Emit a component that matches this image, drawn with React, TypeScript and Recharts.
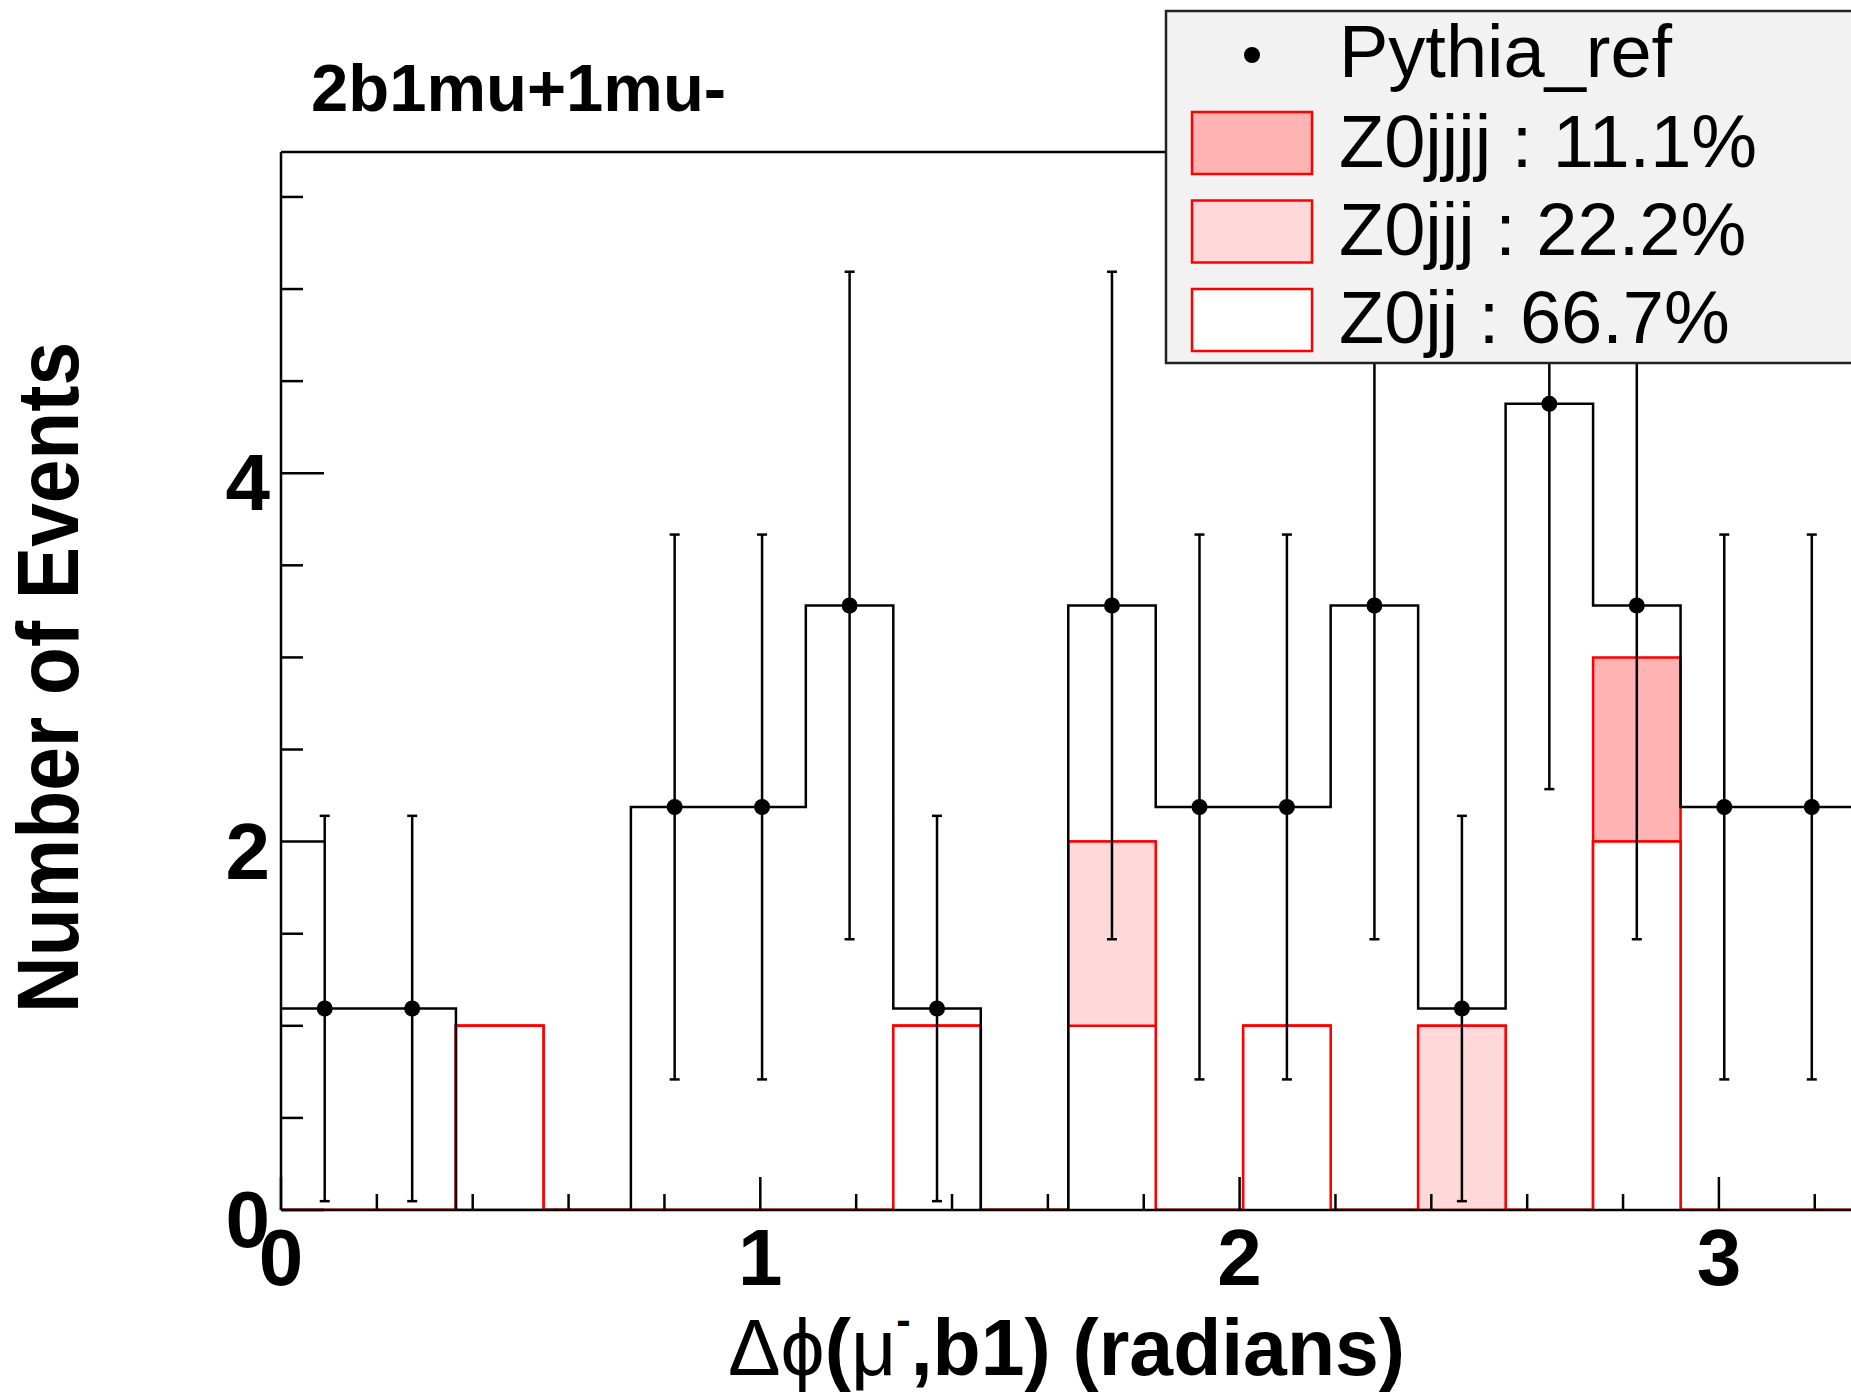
import React from 'react';
import { ComposedChart, Area, Line, Scatter, ErrorBar, XAxis, YAxis, ReferenceLine } from 'recharts';

// histogram binning (radians)
const binWidth = 0.1825;
const xMax = 3.2756;
const yMax = 5.744;

// Pythia reference, per bin (normalised)
const pythiaRef = [1.094, 1.094, 0, 0, 2.188, 2.188, 3.282, 1.094, 0, 3.282, 2.188, 2.188, 3.282, 1.094, 4.377, 3.282, 2.188, 2.188];
const pythiaErr = [1.046, 1.046, 0, 0, 1.479, 1.479, 1.812, 1.046, 0, 1.812, 1.479, 1.479, 1.812, 1.046, 2.092, 1.812, 1.479, 1.479];

// MC samples, events per bin
const z0jj = [0, 0, 1, 0, 0, 0, 0, 1, 0, 1, 0, 1, 0, 0, 0, 2, 0, 0];
const z0jjj = [0, 0, 0, 0, 0, 0, 0, 0, 0, 1, 0, 0, 0, 1, 0, 0, 0, 0];
const z0jjjj = [0, 0, 0, 0, 0, 0, 0, 0, 0, 0, 0, 0, 0, 0, 0, 1, 0, 0];

const xTicks = [0, 0.2, 0.4, 0.6, 0.8, 1, 1.2, 1.4, 1.6, 1.8, 2, 2.2, 2.4, 2.6, 2.8, 3, 3.2];
const yTicks = [0, 0.5, 1, 1.5, 2, 2.5, 3, 3.5, 4, 4.5, 5, 5.5];
const xMajor = [0, 1, 2, 3];
const yMajor = [0, 2, 4];

const legendItems = [
  { label: 'Z0jjjj : 11.1%', fill: '#ffb3b3' },
  { label: 'Z0jjj : 22.2%', fill: '#ffd9d9' },
  { label: 'Z0jj : 66.7%', fill: '#ffffff' },
];

const FONT = '"Liberation Sans", Arial, Helvetica, sans-serif';

const nBins = pythiaRef.length;

// step rows at bin edges, stack is cumulative like THStack
const stepRows = Array.from({ length: nBins + 1 }, (_, k) => {
  const i = Math.min(k, nBins - 1);
  return {
    x: +(k * binWidth).toFixed(4),
    pythia: pythiaRef[i],
    jj: z0jj[i],
    jjj: z0jj[i] + z0jjj[i],
    jjjj: z0jj[i] + z0jjj[i] + z0jjjj[i],
  };
});

const points = pythiaRef
  .map((v, i) => ({ x: +((i + 0.5) * binWidth).toFixed(4), y: v, err: pythiaErr[i] }))
  .filter(p => p.y > 0);

const XTick = (props: any) => {
  const { x, y, payload } = props;
  const major = xMajor.includes(payload.value);
  return (
    <g>
      <line x1={x} x2={x} y1={y} y2={y - (major ? 33 : 16)} stroke="#000" strokeWidth={2.5} />
      {major && (
        <text x={x} y={y + 75} textAnchor="middle" fontSize={80} fontWeight="bold" fontFamily={FONT} fill="#000">
          {payload.value}
        </text>
      )}
    </g>
  );
};

const YTick = (props: any) => {
  const { x, y, payload } = props;
  const major = yMajor.includes(payload.value);
  return (
    <g>
      <line x1={x} x2={x + (major ? 43 : 22)} y1={y} y2={y} stroke="#000" strokeWidth={2.5} />
      {major && (
        <text x={x - 11} y={y + 37} textAnchor="end" fontSize={80} fontWeight="bold" fontFamily={FONT} fill="#000">
          {payload.value}
        </text>
      )}
    </g>
  );
};

const Dot = (props: any) => <circle cx={props.cx} cy={props.cy} r={8} fill="#000" />;

export default function App() {
  return (
    <div style={{ position: 'relative', width: 1851, height: 1394, overflow: 'hidden', background: '#fff' }}>
      <style>{'body{margin:0;overflow:hidden}'}</style>
      <ComposedChart width={1851} height={1394} data={stepRows} margin={{ top: 152, right: 0, bottom: 0, left: 0 }}>
        <XAxis
          dataKey="x"
          type="number"
          domain={[0, xMax]}
          allowDataOverflow
          ticks={xTicks}
          interval={0}
          height={184}
          tickSize={0}
          tickMargin={0}
          tick={<XTick />}
          axisLine={{ stroke: '#000', strokeWidth: 2.5 }}
        />
        <YAxis
          type="number"
          domain={[0, yMax]}
          allowDataOverflow
          ticks={yTicks}
          interval={0}
          width={281}
          tickSize={0}
          tickMargin={0}
          tick={<YTick />}
          axisLine={{ stroke: '#000', strokeWidth: 2.5 }}
        />
        <ReferenceLine y={yMax} stroke="#000" strokeWidth={2.5} />
        <Area type="stepAfter" dataKey="jjjj" stroke="#ff0000" strokeWidth={2.5} fill="#ffb3b3" fillOpacity={1} isAnimationActive={false} dot={false} activeDot={false} />
        <Area type="stepAfter" dataKey="jjj" stroke="#ff0000" strokeWidth={2.5} fill="#ffd9d9" fillOpacity={1} isAnimationActive={false} dot={false} activeDot={false} />
        <Area type="stepAfter" dataKey="jj" stroke="#ff0000" strokeWidth={2.5} fill="#ffffff" fillOpacity={1} isAnimationActive={false} dot={false} activeDot={false} />
        <Line type="stepAfter" dataKey="pythia" stroke="#000" strokeWidth={2.5} dot={false} activeDot={false} isAnimationActive={false} />
        <Scatter data={points} dataKey="y" shape={<Dot />} isAnimationActive={false}>
          <ErrorBar dataKey="err" direction="y" width={5} stroke="#000" strokeWidth={2.5} isAnimationActive={false} />
        </Scatter>
      </ComposedChart>

      <svg width={1851} height={1394} style={{ position: 'absolute', left: 0, top: 0, pointerEvents: 'none' }}>
        <text x={311} y={111} fontSize={67} fontWeight="bold" fontFamily={FONT} fill="#000">2b1mu+1mu-</text>

        <text x={728} y={1375} fontSize={80} fontWeight="bold" fontFamily={FONT} fill="#000" textLength={677} lengthAdjust="spacingAndGlyphs">
          <tspan fontWeight="normal">Δϕ</tspan>(<tspan fontWeight="normal">μ</tspan>
          <tspan fontSize={44} dy={-40}>-</tspan>
          <tspan dy={40}>,b1) (radians)</tspan>
        </text>

        <text transform="translate(78,1013) rotate(-90)" fontSize={87} fontWeight="bold" fontFamily={FONT} fill="#000" textLength={671} lengthAdjust="spacingAndGlyphs">
          Number of Events
        </text>

        <rect x={1166} y={11} width={720} height={352} fill="#f2f2f2" stroke="#222" strokeWidth={2.5} />
        <circle cx={1252} cy={55} r={8} fill="#000" />
        <text x={1339} y={77} fontSize={74} fontFamily={FONT} fill="#000">Pythia_ref</text>
        {legendItems.map((it, i) => (
          <g key={it.label}>
            <rect x={1192} y={112 + i * 88.5} width={120} height={62} fill={it.fill} stroke="#ff0000" strokeWidth={2.5} />
            <text x={1339} y={167 + i * 88} fontSize={74} fontFamily={FONT} fill="#000">{it.label}</text>
          </g>
        ))}
      </svg>
    </div>
  );
}
